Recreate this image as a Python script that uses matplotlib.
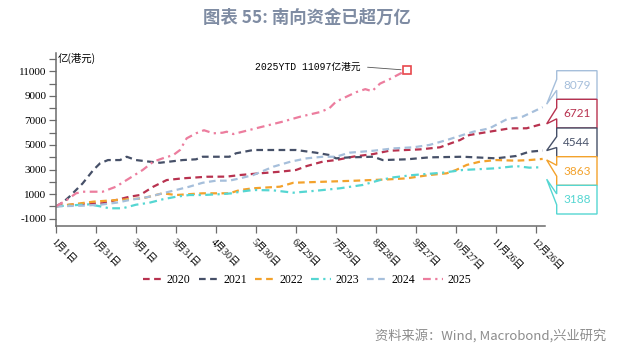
import matplotlib
matplotlib.use('Agg')
import matplotlib.pyplot as plt
from matplotlib.patches import Polygon
from matplotlib.lines import Line2D

# ---------------- data ----------------
years = ['2020', '2021', '2022', '2023', '2024', '2025']

days_2020 = [0, 10, 20, 35, 45, 55, 63, 73, 83, 95, 113, 128, 138, 153, 168, 180, 188, 200, 210, 223,
             238, 250, 273, 288, 296, 303, 310, 325, 340, 353, 365]
vals_2020 = [0, 120, 200, 250, 510, 780, 920, 1600, 2140, 2280, 2410, 2420, 2550, 2690, 2820, 2960, 3280,
             3640, 3770, 4050, 4260, 4530, 4640, 4810, 5130, 5400, 5810, 6080, 6350, 6360, 6721]

days_2021 = [0, 5, 10, 20, 28, 33, 39, 48, 53, 60, 70, 78, 85, 95, 105, 110, 130, 135, 148, 163, 180,
             195, 205, 210, 220, 238, 245, 263, 280, 305, 330, 345, 355, 365]
vals_2021 = [0, 300, 780, 1870, 2960, 3500, 3770, 3770, 4040, 3770, 3640, 3550, 3640, 3770, 3830, 4040,
             4040, 4320, 4590, 4590, 4590, 4370, 4180, 3910, 3990, 4040, 3770, 3830, 3990, 4040, 3910,
             4100, 4450, 4544]

days_2022 = [0, 18, 28, 45, 65, 80, 90, 110, 130, 138, 148, 168, 178, 200, 225, 250, 263, 280, 293, 300,
             308, 318, 330, 345, 355, 365]
vals_2022 = [0, 240, 380, 510, 650, 1060, 920, 1060, 1060, 1330, 1470, 1600, 1920, 2000, 2090, 2200, 2280,
             2550, 2690, 2960, 3370, 3640, 3770, 3720, 3770, 3863]

days_2023 = [0, 15, 25, 33, 40, 50, 60, 70, 80, 90, 100, 110, 125, 132, 138, 148, 163, 178, 195, 213,
             230, 243, 253, 268, 290, 305, 330, 345, 355, 365]
vals_2023 = [0, 100, 160, 0, -160, -160, 130, 290, 570, 780, 920, 920, 1000, 1060, 1190, 1330, 1300, 1110,
             1270, 1470, 1740, 2140, 2360, 2550, 2740, 2960, 3100, 3280, 3150, 3188]

days_2024 = [0, 20, 33, 45, 55, 70, 80, 90, 100, 110, 120, 130, 138, 148, 163, 176, 188, 200, 210, 220,
             238, 253, 268, 280, 293, 305, 313, 325, 338, 350, 365]
vals_2024 = [0, 50, 130, 290, 510, 780, 1060, 1330, 1600, 1920, 2090, 2090, 2280, 2550, 3230, 3640, 3910,
             4040, 4040, 4370, 4530, 4720, 4810, 5000, 5400, 5810, 6080, 6350, 7090, 7310, 8079]

days_2025 = [0, 8, 15, 20, 28, 35, 45, 55, 65, 73, 80, 88, 93, 98, 105, 111, 118, 125, 128, 133, 145,
             153, 170, 183, 198, 205, 210, 218, 225, 232, 237, 243, 250, 257, 263]
vals_2025 = [0, 510, 1060, 1190, 1190, 1190, 1600, 2280, 2960, 3640, 3910, 4180, 4590, 5540, 5950, 6200,
             5950, 6000, 6080, 5890, 6220, 6440, 6900, 7300, 7680, 7990, 8530, 8940, 9300, 9550, 9380,
             10000, 10350, 10750, 11097]

xtick_days = [0, 30, 60, 90, 120, 150, 180, 210, 240, 270, 300, 330, 360]
xtick_labels = ['1月1日', '1月31日', '3月1日', '3月31日', '4月30日', '5月30日', '6月29日',
                '7月29日', '8月28日', '9月27日', '10月27日', '11月26日', '12月26日']
ytick_vals = list(range(-1000, 12001, 1000))
ytd_label = '2025YTD 11097亿港元'
callout_years = ['2024', '2020', '2021', '2022', '2023']

title = '图表 55: 南向资金已超万亿'
unit_label = '亿(港元)'
source = '资料来源：Wind, Macrobond,兴业研究'

series = {
    '2020': (days_2020, vals_2020),
    '2021': (days_2021, vals_2021),
    '2022': (days_2022, vals_2022),
    '2023': (days_2023, vals_2023),
    '2024': (days_2024, vals_2024),
    '2025': (days_2025, vals_2025),
}

# ---------------- styles ----------------
colors = {'2020': '#b8324f', '2021': '#465068', '2022': '#f3a22c',
          '2023': '#55d6d2', '2024': '#a6bfdb', '2025': '#ec7d9e'}
dashes = {'2020': (0, (3, 2)), '2021': (0, (3, 2)), '2022': (0, (3, 2)),
          '2023': (0, (3.5, 2, 1, 2)), '2024': (0, (3, 2)), '2025': (0, (3.5, 2, 1, 2))}

CJK = ['Noto Sans CJK SC', 'DejaVu Sans']
SERIF_CJK = ['Liberation Serif', 'Noto Sans CJK SC']

W, H = 629, 350
fig = plt.figure(figsize=(W / 100, H / 100), dpi=100)
fig.patch.set_facecolor('white')


def fx(x):
    return x / W


def fy(y):
    return 1 - y / H


ax = fig.add_axes([fx(56), fy(225.7), fx(545) - fx(56), fy(52.7) - fy(225.7)])
ax.set_xlim(0, 366.75)
ax.set_ylim(-1580, 12520)

for yr in years:
    d, v = series[yr]
    ax.plot(d, v, color=colors[yr], lw=1.6, linestyle=dashes[yr], dash_capstyle='butt', label=yr)

# spines / ticks
for s in ['top', 'right']:
    ax.spines[s].set_visible(False)
for s in ['left', 'bottom']:
    ax.spines[s].set_color('#6b6b6b')
    ax.spines[s].set_linewidth(1.1)

ax.set_yticks(ytick_vals)
ax.set_yticklabels([str(v) if (v // 1000) % 2 != 0 else '' for v in ytick_vals],
                   family='Liberation Serif', fontsize=8)
ax.tick_params(axis='y', direction='out', length=5, width=0.9, color='#6b6b6b', pad=2)

ax.set_xticks(xtick_days)
ax.set_xticklabels(xtick_labels, rotation=-45, ha='left', va='top', rotation_mode='anchor',
                   family=SERIF_CJK, fontsize=7.2)
ax.tick_params(axis='x', direction='out', length=5, width=0.9, color='#6b6b6b', pad=3)

# 2025 end marker + annotation
d25, v25 = days_2025[-1], vals_2025[-1]
ax.plot([d25], [v25], marker='s', ms=6, mfc='white', mec='#e8474c', mew=1.2, zorder=5)
ax.annotate(ytd_label, xy=(d25, v25), xycoords='data',
            xytext=(255, H - 66.7), textcoords='figure pixels',
            ha='left', va='center', fontsize=7, family=['Liberation Mono', 'Noto Sans CJK SC'],
            arrowprops=dict(arrowstyle='-', color='#555555', lw=0.6,
                            relpos=(1, 0.5), shrinkA=3, shrinkB=4))

# callout boxes on the right
box_left, box_right = 556.7, 597.0
box_tops = [70.7, 99.3, 128.0, 156.7, 185.3]
box_h = 28.7
tip_dy = [-3, 0, 0, 1, 12]
fig.canvas.draw()
for i, yr in enumerate(callout_years):
    d, v = series[yr]
    px, py = ax.transData.transform((d[-1], v[-1]))
    tipx, tipy = px + 4, py - tip_dy[i]
    top = H - box_tops[i]
    bot = top - box_h
    n_hi = top - 0.3 * box_h
    n_lo = top - 0.68 * box_h
    pts = [(box_left, top), (box_right, top), (box_right, bot), (box_left, bot),
           (box_left, n_lo), (tipx, tipy), (box_left, n_hi)]
    pts = [(x / W, y / H) for x, y in pts]
    fig.add_artist(Polygon(pts, closed=True, transform=fig.transFigure,
                           facecolor='white', edgecolor=colors[yr], lw=1.0, zorder=3))
    fig.text(fx((box_left + box_right) / 2), (top - box_h / 2) / H, f'{v[-1]:.0f}',
             ha='center', va='center', color=colors[yr], fontsize=8.5, family='Lato', zorder=4)

# texts
fig.text(fx(58), fy(58), unit_label, ha='left', va='center', fontsize=7.5, family=CJK)
fig.text(fx(307), fy(18), title, ha='center', va='center', fontsize=12.5, weight='bold',
         color='#7f8ca3', family=CJK)
fig.text(fx(606), fy(336), source, ha='right', va='center', fontsize=9.5,
         color='#8c8c8c', family=CJK)

# legend
handles = [Line2D([0], [0], color=colors[yr], lw=1.6, linestyle=dashes[yr]) for yr in years]
fig.legend(handles, years, loc='center', bbox_to_anchor=(fx(307), fy(280)), ncol=6, frameon=False,
           prop={'family': 'Liberation Serif', 'size': 8.5}, handlelength=1.7,
           handletextpad=0.35, columnspacing=0.7)

fig.savefig('out.png', dpi=100)
